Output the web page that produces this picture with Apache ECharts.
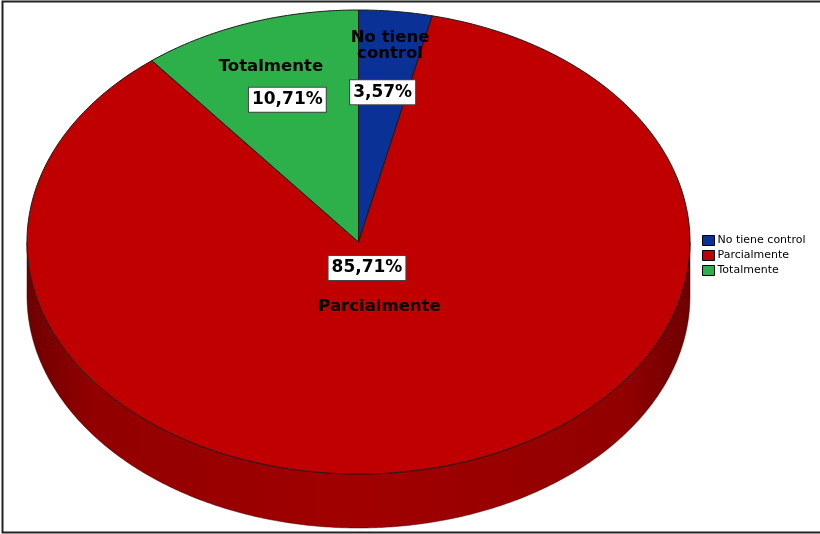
<!DOCTYPE html>
<html>
<head>
<meta charset="utf-8">
<script src="https://cdn.jsdelivr.net/npm/echarts@6/dist/echarts.min.js"></script>
<style>
  html, body { margin: 0; padding: 0; background: #fff; }
  #chart { width: 820px; height: 534px; }
</style>
</head>
<body>
<div id="chart"></div>
<script>
// Share of answers per category (percent of respondents)
const categories = ['No tiene control', 'Parcialmente', 'Totalmente'];
const percentages = [3.57, 85.71, 10.71];
const sliceColors = ['#0a3296', '#c00000', '#2db04a'];

const FONT = '"DejaVu Sans", "Liberation Sans", Arial, sans-serif';
const total = percentages.reduce((a, b) => a + b, 0);

// Cumulative start of every slice, clockwise from 12 o'clock (fraction of a turn)
const starts = [];
let acc = 0;
percentages.forEach(v => { starts.push(acc / total); acc += v; });

// Tilted disc geometry
const PIE = { cx: 358.5, cy: 242, rx: 331.5, ry: 232, depth: 54 };

function shade(hex, f) {
  const n = parseInt(hex.slice(1), 16);
  const r = Math.round(((n >> 16) & 255) * f);
  const g = Math.round(((n >> 8) & 255) * f);
  const b = Math.round((n & 255) * f);
  return 'rgb(' + r + ',' + g + ',' + b + ')';
}

function fmtPct(v) {
  return v.toFixed(2).replace('.', ',') + '%';
}

function makeRender(k) {
  return function (params, api) {
    const v = api.value(0);
    const frac = v / total;
    const a0 = starts[k] * 360;
    const a1 = a0 + frac * 360;
    const g = PIE;
    const pt = (deg, dy, r) => {
      const t = deg * Math.PI / 180;
      const s = r == null ? 1 : r;
      return [g.cx + g.rx * s * Math.sin(t), g.cy - g.ry * s * Math.cos(t) + (dy || 0)];
    };
    const arc = (s, e, dy) => {
      const n = Math.max(2, Math.ceil((e - s) / 0.5));
      const out = [];
      for (let i = 0; i <= n; i++) out.push(pt(s + (e - s) * i / n, dy));
      return out;
    };
    const color = api.visual('color');
    const children = [];

    // Rim of the disc: only the front half (90°..270°) faces the viewer
    const s = Math.max(a0, 90), e = Math.min(a1, 270);
    if (e > s) {
      const top = arc(s, e, 0);
      const bot = arc(s, e, g.depth).reverse();
      children.push({
        type: 'polygon',
        shape: { points: top.concat(bot) },
        style: {
          fill: {
            type: 'linear', global: true,
            x: g.cx - g.rx, y: 0, x2: g.cx + g.rx, y2: 0,
            colorStops: [
              { offset: 0, color: shade(sliceColors[k], 0.58) },
              { offset: 0.1, color: shade(sliceColors[k], 0.76) },
              { offset: 0.5, color: shade(sliceColors[k], 0.84) },
              { offset: 0.9, color: shade(sliceColors[k], 0.76) },
              { offset: 1, color: shade(sliceColors[k], 0.58) }
            ]
          },
          stroke: 'rgba(60,0,0,0.6)',
          lineWidth: 0.8
        },
        z2: 1
      });
    }

    // Top face of the slice
    children.push({
      type: 'polygon',
      shape: { points: [[g.cx, g.cy]].concat(arc(a0, a1, 0)) },
      style: { fill: color, stroke: '#1a1a1a', lineWidth: 1 },
      z2: 2
    });

    // Labels along the middle of the slice
    const mid = (a0 + a1) / 2;
    const big = frac > 0.5;
    let name = categories[k];
    const wrap = frac < 0.05;
    if (wrap) {
      const i = name.lastIndexOf(' ');
      name = name.slice(0, i) + '\n' + name.slice(i + 1);
    }
    const pPos = pt(mid, 0, big ? 0.115 : 0.65);
    const nPos = pt(mid, 0, big ? 0.285 : (wrap ? 0.85 : 0.80));
    children.push({
      type: 'text',
      x: nPos[0], y: nPos[1],
      style: {
        text: name,
        font: 'bold 16.5px ' + FONT,
        fill: '#000',
        align: 'center',
        verticalAlign: 'middle',
        lineHeight: 16
      },
      z2: 5
    });
    children.push({
      type: 'text',
      x: pPos[0], y: pPos[1],
      style: {
        text: fmtPct(v),
        font: 'bold 17px ' + FONT,
        fill: '#000',
        align: 'center',
        verticalAlign: 'middle',
        backgroundColor: '#fff',
        borderColor: '#444',
        borderWidth: 1,
        padding: [4, 3, 3, 3]
      },
      z2: 6
    });

    return { type: 'group', children: children };
  };
}

const chart = echarts.init(document.getElementById('chart'), null, { renderer: 'canvas' });

chart.setOption({
  animation: false,
  backgroundColor: '#fff',
  legend: {
    orient: 'vertical',
    left: 697,
    top: 230,
    icon: 'rect',
    itemWidth: 12,
    itemHeight: 10,
    itemGap: 4,
    selectedMode: false,
    itemStyle: { borderColor: '#000', borderWidth: 1 },
    textStyle: { fontFamily: FONT, fontSize: 11, color: '#000', padding: [0, 0, 0, -2] },
    data: categories
  },
  graphic: [{
    type: 'rect',
    shape: { x: 2.5, y: 1.5, width: 830, height: 531 },
    style: { fill: 'none', stroke: '#222', lineWidth: 2 },
    z: 0
  }],
  series: categories.map((name, k) => ({
    type: 'custom',
    name: name,
    coordinateSystem: 'none',
    silent: true,
    itemStyle: { color: sliceColors[k] },
    data: [percentages[k]],
    renderItem: makeRender(k)
  }))
});
</script>
</body>
</html>
